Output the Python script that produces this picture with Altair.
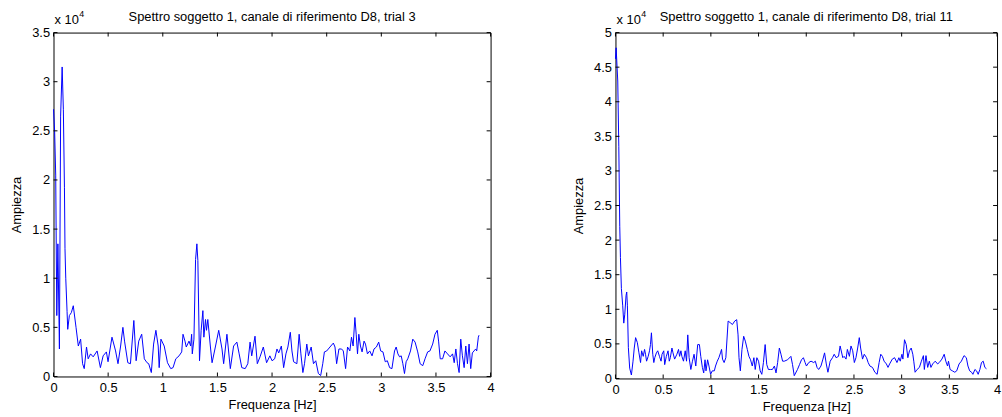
import altair as alt
import pandas as pd

# ---------------- data (amplitudes in units of 10^4) ----------------
L_FREQ = [
    0.000, 0.010, 0.020, 0.030, 0.040, 0.054, 0.065, 0.079, 0.090, 0.100,
    0.105, 0.112, 0.124, 0.130, 0.145, 0.163, 0.181, 0.206, 0.227, 0.248,
    0.266, 0.281, 0.302, 0.317, 0.339, 0.363, 0.399, 0.429, 0.454, 0.484,
    0.499, 0.535, 0.568, 0.590, 0.614, 0.635, 0.650, 0.680, 0.704, 0.735,
    0.756, 0.780, 0.807, 0.831, 0.856, 0.871, 0.895, 0.916, 0.937, 0.958,
    0.967, 0.983, 1.013, 1.043, 1.073, 1.094, 1.119, 1.149, 1.173, 1.185,
    1.203, 1.215, 1.240, 1.255, 1.264, 1.270, 1.285, 1.300, 1.312, 1.321,
    1.336, 1.351, 1.367, 1.376, 1.391, 1.400, 1.412, 1.436, 1.451, 1.481,
    1.512, 1.542, 1.557, 1.587, 1.618, 1.648, 1.678, 1.699, 1.723, 1.754,
    1.778, 1.799, 1.814, 1.844, 1.865, 1.890, 1.920, 1.950, 1.980, 2.000,
    2.024, 2.045, 2.061, 2.085, 2.106, 2.127, 2.145, 2.167, 2.182, 2.197,
    2.227, 2.248, 2.264, 2.282, 2.297, 2.318, 2.333, 2.358, 2.379, 2.400,
    2.424, 2.445, 2.464, 2.479, 2.500, 2.530, 2.561, 2.576, 2.591, 2.612,
    2.636, 2.652, 2.673, 2.691, 2.712, 2.727, 2.742, 2.758, 2.770, 2.782,
    2.794, 2.809, 2.824, 2.842, 2.855, 2.873, 2.894, 2.915, 2.933, 2.955,
    2.976, 2.994, 3.015, 3.036, 3.055, 3.076, 3.097, 3.121, 3.136, 3.152,
    3.167, 3.182, 3.197, 3.212, 3.227, 3.242, 3.267, 3.288, 3.309, 3.333,
    3.355, 3.379, 3.400, 3.424, 3.445, 3.470, 3.491, 3.512, 3.524, 3.539,
    3.561, 3.582, 3.606, 3.630, 3.652, 3.667, 3.682, 3.697, 3.712, 3.727,
    3.742, 3.758, 3.773, 3.788, 3.803, 3.818, 3.833, 3.848, 3.864, 3.873,
    3.888, 3.894,
]
L_AMP = [
    2.72, 2.50, 2.05, 0.62, 1.35, 0.28, 2.65, 3.15, 2.72, 1.92,
    1.30, 1.00, 0.66, 0.48, 0.62, 0.65, 0.72, 0.50, 0.31, 0.38,
    0.13, 0.08, 0.30, 0.18, 0.23, 0.20, 0.26, 0.09, 0.21, 0.25,
    0.15, 0.40, 0.26, 0.13, 0.31, 0.50, 0.36, 0.14, 0.13, 0.57,
    0.16, 0.36, 0.43, 0.18, 0.14, 0.13, 0.04, 0.33, 0.47, 0.31,
    0.09, 0.38, 0.31, 0.14, 0.08, 0.09, 0.18, 0.21, 0.25, 0.43,
    0.36, 0.30, 0.36, 0.31, 0.43, 0.23, 0.38, 1.19, 1.35, 1.18,
    0.16, 0.47, 0.67, 0.40, 0.58, 0.47, 0.58, 0.30, 0.14, 0.30,
    0.47, 0.28, 0.13, 0.43, 0.08, 0.31, 0.35, 0.23, 0.09, 0.08,
    0.13, 0.35, 0.21, 0.41, 0.13, 0.20, 0.30, 0.14, 0.21, 0.16,
    0.18, 0.28, 0.24, 0.31, 0.09, 0.23, 0.30, 0.45, 0.26, 0.15,
    0.13, 0.43, 0.23, 0.04, 0.13, 0.33, 0.21, 0.30, 0.13, 0.16,
    0.03, 0.01, 0.13, 0.25, 0.26, 0.30, 0.34, 0.30, 0.13, 0.28,
    0.28, 0.26, 0.08, 0.30, 0.26, 0.40, 0.31, 0.60, 0.43, 0.23,
    0.43, 0.31, 0.25, 0.36, 0.33, 0.23, 0.26, 0.21, 0.28, 0.30,
    0.35, 0.26, 0.25, 0.15, 0.16, 0.09, 0.08, 0.26, 0.30, 0.23,
    0.20, 0.21, 0.13, 0.03, 0.15, 0.18, 0.26, 0.38, 0.35, 0.25,
    0.13, 0.11, 0.18, 0.25, 0.26, 0.33, 0.43, 0.47, 0.36, 0.18,
    0.18, 0.26, 0.23, 0.20, 0.23, 0.14, 0.28, 0.13, 0.04, 0.38,
    0.21, 0.09, 0.31, 0.13, 0.33, 0.08, 0.24, 0.26, 0.28, 0.26,
    0.40, 0.42,
]

R_FREQ = [
    0.000, 0.007, 0.024, 0.035, 0.045, 0.052, 0.062, 0.076, 0.087, 0.097,
    0.111, 0.118, 0.125, 0.135, 0.149, 0.167, 0.184, 0.197, 0.211, 0.229,
    0.246, 0.263, 0.274, 0.291, 0.305, 0.315, 0.326, 0.343, 0.357, 0.367,
    0.377, 0.391, 0.402, 0.412, 0.429, 0.443, 0.461, 0.478, 0.488, 0.506,
    0.516, 0.533, 0.551, 0.564, 0.575, 0.592, 0.603, 0.620, 0.644, 0.661,
    0.672, 0.686, 0.696, 0.713, 0.731, 0.745, 0.758, 0.772, 0.790, 0.807,
    0.824, 0.842, 0.862, 0.880, 0.894, 0.911, 0.925, 0.939, 0.949, 0.966,
    0.980, 0.997, 1.015, 1.036, 1.049, 1.067, 1.084, 1.101, 1.112, 1.122,
    1.139, 1.157, 1.181, 1.209, 1.226, 1.250, 1.271, 1.285, 1.295, 1.309,
    1.326, 1.344, 1.361, 1.382, 1.399, 1.416, 1.434, 1.451, 1.465, 1.482,
    1.500, 1.517, 1.534, 1.551, 1.569, 1.586, 1.603, 1.624, 1.645, 1.666,
    1.683, 1.700, 1.718, 1.735, 1.752, 1.770, 1.804, 1.839, 1.856, 1.874,
    1.908, 1.929, 1.950, 1.970, 1.988, 2.002, 2.026, 2.050, 2.078, 2.095,
    2.113, 2.130, 2.154, 2.175, 2.192, 2.210, 2.227, 2.251, 2.275, 2.293,
    2.313, 2.338, 2.355, 2.383, 2.397, 2.417, 2.431, 2.452, 2.469, 2.487,
    2.504, 2.521, 2.539, 2.556, 2.570, 2.590, 2.608, 2.632, 2.649, 2.667,
    2.694, 2.719, 2.743, 2.764, 2.781, 2.798, 2.816, 2.840, 2.857, 2.874,
    2.902, 2.926, 2.951, 2.971, 2.985, 3.003, 3.013, 3.030, 3.048, 3.065,
    3.082, 3.100, 3.117, 3.127, 3.141, 3.162, 3.186, 3.207, 3.228, 3.238,
    3.255, 3.273, 3.290, 3.307, 3.325, 3.352, 3.377, 3.394, 3.422, 3.446,
    3.463, 3.481, 3.491, 3.508, 3.532, 3.557, 3.577, 3.602, 3.626, 3.654,
    3.678, 3.695, 3.713, 3.733, 3.747, 3.768, 3.785, 3.802, 3.820, 3.837,
    3.855, 3.872, 3.889,
]
R_AMP = [
    4.62, 4.78, 4.30, 3.35, 2.20, 1.75, 1.30, 1.05, 0.80, 0.92,
    1.20, 1.25, 1.05, 0.45, 0.15, 0.05, 0.25, 0.44, 0.59, 0.52,
    0.37, 0.23, 0.40, 0.32, 0.42, 0.35, 0.25, 0.32, 0.40, 0.49,
    0.66, 0.35, 0.23, 0.30, 0.37, 0.40, 0.32, 0.25, 0.35, 0.40,
    0.20, 0.32, 0.40, 0.25, 0.30, 0.44, 0.37, 0.28, 0.35, 0.42,
    0.32, 0.40, 0.32, 0.25, 0.40, 0.25, 0.63, 0.30, 0.13, 0.25,
    0.35, 0.18, 0.49, 0.49, 0.32, 0.16, 0.08, 0.27, 0.11, 0.27,
    0.18, 0.06, 0.11, 0.11, 0.18, 0.25, 0.30, 0.37, 0.42, 0.28,
    0.23, 0.30, 0.83, 0.80, 0.78, 0.83, 0.85, 0.63, 0.30, 0.11,
    0.42, 0.61, 0.54, 0.42, 0.32, 0.27, 0.18, 0.30, 0.13, 0.30,
    0.25, 0.11, 0.06, 0.23, 0.49, 0.20, 0.13, 0.13, 0.13, 0.18,
    0.08, 0.23, 0.44, 0.35, 0.25, 0.25, 0.27, 0.32, 0.20, 0.04,
    0.13, 0.20, 0.27, 0.30, 0.23, 0.18, 0.23, 0.25, 0.23, 0.25,
    0.16, 0.13, 0.18, 0.28, 0.37, 0.21, 0.09, 0.25, 0.30, 0.35,
    0.30, 0.32, 0.47, 0.30, 0.32, 0.28, 0.42, 0.32, 0.47, 0.40,
    0.23, 0.30, 0.44, 0.59, 0.44, 0.28, 0.35, 0.30, 0.23, 0.18,
    0.16, 0.09, 0.06, 0.23, 0.35, 0.32, 0.25, 0.21, 0.16, 0.21,
    0.28, 0.30, 0.23, 0.30, 0.25, 0.35, 0.28, 0.56, 0.49, 0.30,
    0.40, 0.44, 0.35, 0.25, 0.09, 0.13, 0.16, 0.25, 0.33, 0.13,
    0.33, 0.16, 0.25, 0.16, 0.21, 0.25, 0.21, 0.23, 0.28, 0.35,
    0.25, 0.18, 0.25, 0.13, 0.11, 0.09, 0.11, 0.21, 0.25, 0.33,
    0.30, 0.18, 0.11, 0.09, 0.06, 0.13, 0.11, 0.06, 0.13, 0.23,
    0.25, 0.16, 0.14,
]

X_TICKS = [0, 0.5, 1, 1.5, 2, 2.5, 3, 3.5, 4]
L_Y_TICKS = [0, 0.5, 1, 1.5, 2, 2.5, 3, 3.5]
R_Y_TICKS = [0, 0.5, 1, 1.5, 2, 2.5, 3, 3.5, 4, 4.5, 5]
TITLES = [
    "Spettro soggetto 1, canale di riferimento D8, trial 3",
    "Spettro soggetto 1, canale di riferimento D8, trial 11",
]
X_TITLE = "Frequenza [Hz]"
Y_TITLE = "Ampiezza"
EXP_BASE = "x 10"
EXP_POW = "4"

FONT = "Liberation Sans"
FS = 13
BLUE = "#0000ff"


def panel(freq, amp, ymax, yticks, title, W, H):
    df = pd.DataFrame({"f": freq, "a": amp})
    xs = alt.Scale(domain=[0, 4], nice=False, zero=False)
    ys = alt.Scale(domain=[0, ymax], nice=False, zero=False)
    common = dict(
        ticks=False, domain=False, grid=False, tickSize=0,
        labelFont=FONT, titleFont=FONT, labelFontSize=FS, titleFontSize=FS,
        labelColor="black", titleColor="black", titleFontWeight="normal",
        format="~g", labelFlush=False, labelOverlap=False,
    )
    x_axis = alt.Axis(values=X_TICKS, title=X_TITLE, labelPadding=5,
                      titlePadding=4, **common)
    y_axis = alt.Axis(values=yticks, title=Y_TITLE, labelPadding=4,
                      titlePadding=8, **common)

    line = alt.Chart(df).mark_line(color=BLUE, strokeWidth=1).encode(
        x=alt.X("f:Q", scale=xs, axis=x_axis),
        y=alt.Y("a:Q", scale=ys, axis=y_axis),
    )

    xt = pd.DataFrame({"t": X_TICKS})
    yt = pd.DataFrame({"t": yticks})
    rule = dict(color="black", strokeWidth=1)
    top_t = alt.Chart(xt).mark_rule(**rule).encode(
        x=alt.X("t:Q", scale=xs, axis=x_axis), y=alt.value(0), y2=alt.value(4))
    bot_t = alt.Chart(xt).mark_rule(**rule).encode(
        x=alt.X("t:Q", scale=xs, axis=x_axis), y=alt.value(H), y2=alt.value(H - 4))
    lef_t = alt.Chart(yt).mark_rule(**rule).encode(
        y=alt.Y("t:Q", scale=ys, axis=y_axis), x=alt.value(0), x2=alt.value(4))
    rig_t = alt.Chart(yt).mark_rule(**rule).encode(
        y=alt.Y("t:Q", scale=ys, axis=y_axis), x=alt.value(W), x2=alt.value(W - 4))

    ttl = alt.Chart(pd.DataFrame({"s": [title]})).mark_text(
        font=FONT, fontSize=FS, align="center", baseline="alphabetic",
        color="black").encode(text="s:N", x=alt.value(W / 2), y=alt.value(-12))
    e1 = alt.Chart(pd.DataFrame({"s": [EXP_BASE]})).mark_text(
        font=FONT, fontSize=FS, align="left", baseline="alphabetic",
        color="black").encode(text="s:N", x=alt.value(1), y=alt.value(-9))
    e2 = alt.Chart(pd.DataFrame({"s": [EXP_POW]})).mark_text(
        font=FONT, fontSize=9, align="left", baseline="alphabetic",
        color="black").encode(text="s:N", x=alt.value(26), y=alt.value(-16))

    return alt.layer(line, top_t, bot_t, lef_t, rig_t, ttl, e1, e2).properties(
        width=W, height=H)


left = panel(L_FREQ, L_AMP, 3.5, L_Y_TICKS, TITLES[0], 441, 347)
right = panel(R_FREQ, R_AMP, 5, R_Y_TICKS, TITLES[1], 385, 349)

chart = alt.hconcat(left, right, spacing=77).properties(
    padding={"left": 10, "top": 7, "right": 0, "bottom": 0},
    background="white",
).configure_view(stroke="black", strokeWidth=1)

chart.save("out.html", embed_options={"renderer": "svg", "actions": False})
